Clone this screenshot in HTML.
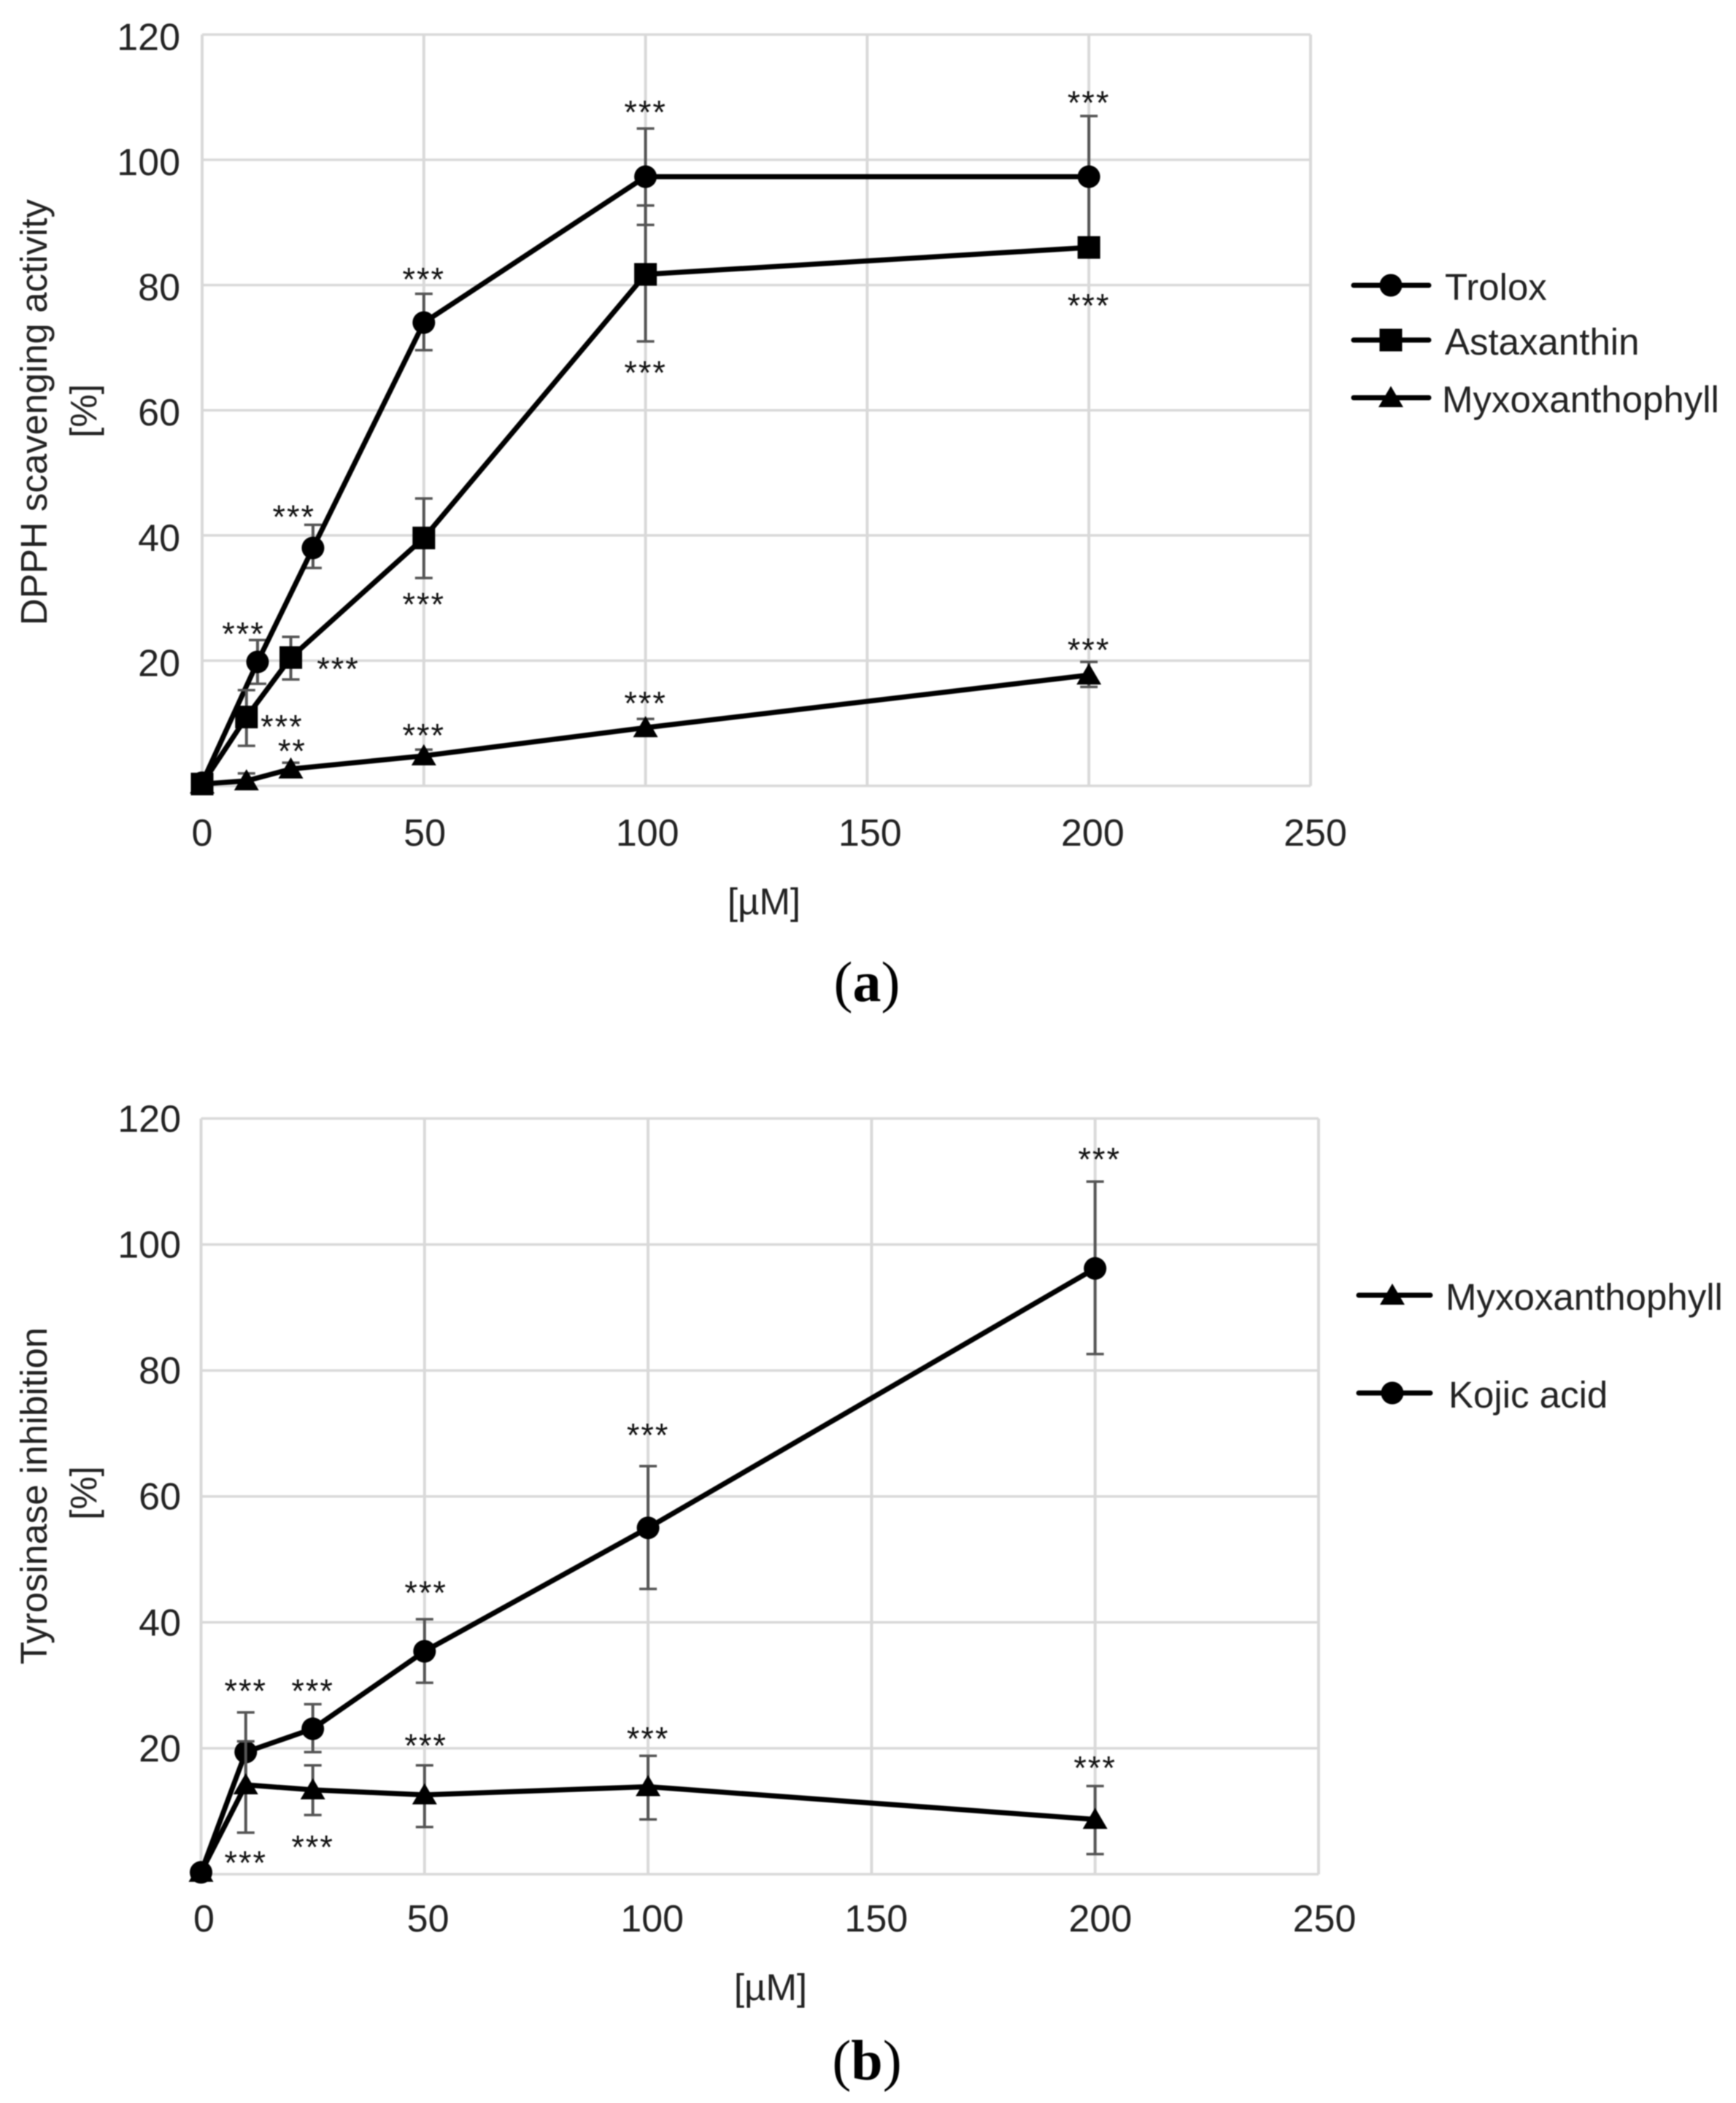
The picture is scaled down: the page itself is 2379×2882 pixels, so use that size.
<!DOCTYPE html>
<html lang="en">
<head>
<meta charset="utf-8">
<title>DPPH scavenging activity and tyrosinase inhibition</title>
<style>
html,body{margin:0;padding:0;background:#fff;}
#figure{display:block;width:2379px;height:2882px;filter:blur(0.9px);}
text{font-family:"Liberation Sans",Arial,sans-serif;fill:#222;}
</style>
</head>
<body>
<svg id="figure" xmlns="http://www.w3.org/2000/svg" width="2379" height="2882" viewBox="0 0 2379 2882"></svg>
<script>
// ---------- shared ticks ----------
const xTicks = [0, 50, 100, 150, 200, 250];
const yTicks = [20, 40, 60, 80, 100, 120];
const xTickLabels = ['0', '50', '100', '150', '200', '250'];
const yTickLabels = ['20', '40', '60', '80', '100', '120'];

// ---------- chart (a) DPPH ----------
const troloxDoses = [0, 12.5, 25, 50, 100, 200];
const troloxValues = [0.5, 19.8, 38, 74, 97.3, 97.3];
const troloxUpper = [0.5, 23.3, 41.7, 78.6, 105, 107];
const troloxLower = [0.5, 16.3, 34.8, 69.6, 89.6, 87];

const astaDoses = [0, 10, 20, 50, 100, 200];
const astaValues = [0.3, 11, 20.5, 39.6, 81.7, 86];
const astaUpper = [0.3, 15.3, 23.8, 45.9, 92.7, 87.3];
const astaLower = [0.3, 6.4, 17, 33.2, 71, 84.7];

const myxoADoses = [0, 10, 20, 50, 100, 200];
const myxoAValues = [0.3, 0.8, 2.7, 4.8, 9.3, 17.7];
const myxoAUpper = [0.3, 2, 3.7, 5.8, 10.7, 19.8];
const myxoALower = [0.3, 0, 1.7, 3.8, 8, 15.8];

const starsAText = ['***','***','***','***','***','***','***','***','***','***','**','***','***','***'];
const starsADose = [9.3, 20.7, 50, 100, 200, 18, 30.7, 50, 100, 200, 20.3, 50, 100, 200];
const starsALevel = [25.5, 44.2, 82.1, 108.8, 110.3, 10.7, 19.9, 30.2, 67.2, 77.9, 6.8, 9.3, 14.4, 22.9];

// ---------- chart (b) Tyrosinase ----------
const kojicDoses = [0, 10, 25, 50, 100, 200];
const kojicValues = [0.3, 19.4, 23.1, 35.4, 55, 96.2];
const kojicUpper = [0.3, 25.7, 27, 40.5, 64.8, 110];
const kojicLower = [0.3, 13.2, 19.4, 30.4, 45.3, 82.6];

const myxoBDoses = [0, 10, 25, 50, 100, 200];
const myxoBValues = [0.3, 14.2, 13.4, 12.6, 13.9, 8.7];
const myxoBUpper = [0.3, 21.1, 17.3, 17.3, 18.8, 14];
const myxoBLower = [0.3, 6.6, 9.4, 7.5, 8.7, 3.2];

const starsBText = ['***','***','***','***','***','***','***','***','***','***'];
const starsBDose = [10, 25, 50.3, 100, 201, 10, 25, 50.3, 100, 200];
const starsBLevel = [30.3, 30.3, 45.9, 70.9, 114.7, 3, 5.5, 21.6, 22.7, 18.1];

// ---------- axis functions ----------
function xA(v){ return 277 + 6.076 * v; }
function yA(v){ return 1077 - 8.58 * v; }
function xB(v){ return 275.5 + 6.126 * v; }
function yB(v){ return 2568.5 - 8.63 * v; }

const svg = document.getElementById('figure');
const NS = 'http://www.w3.org/2000/svg';

function make(tag, attrs, parent){
  const node = document.createElementNS(NS, tag);
  for (const k in attrs) node.setAttribute(k, attrs[k]);
  parent.appendChild(node);
  return node;
}

function addLabel(parent, name, str, x, y, size, anchor, rotate){
  const attrs = {x: x, y: y, 'font-size': size, 'text-anchor': anchor};
  if (rotate) attrs.transform = 'rotate(-90 ' + x + ' ' + y + ')';
  const t = make('text', attrs, parent);
  t.textContent = str;
  
  
  return t;
}

function drawMarker(parent, kind, cx, cy, name){
  let m;
  if (kind === 'circle') {
    m = make('circle', {cx: cx, cy: cy, r: 15.5, fill: '#000'}, parent);
  } else if (kind === 'square') {
    m = make('rect', {x: cx - 15.5, y: cy - 15.5, width: 31, height: 31, fill: '#000'}, parent);
  } else {
    m = make('polygon', {points: (cx - 17) + ',' + (cy + 13) + ' ' + (cx + 17) + ',' + (cy + 13) + ' ' + cx + ',' + (cy - 16), fill: '#000'}, parent);
  }
  
  
  return m;
}

function drawGrid(parent, prefix, xf, yf, xLabelShift, yLabelShift, yLabelRight, xLabelBase){
  const left = xf(0), right = xf(250), top = yf(120), bottom = yf(0);
  xTicks.forEach(function(v, i){
    const line = make('line', {x1: xf(v), x2: xf(v), y1: top, y2: bottom, stroke: '#d9d9d9', 'stroke-width': 4}, parent);
    
    
    addLabel(parent, prefix + '-x-tick-label', xTickLabels[i], xf(v) + xLabelShift(v), xLabelBase, 52, 'middle');
  });
  const baseline = make('line', {x1: left, x2: right, y1: bottom, y2: bottom, stroke: '#d9d9d9', 'stroke-width': 3.5}, parent);
  
  
  yTicks.forEach(function(v, i){
    const line = make('line', {x1: left, x2: right, y1: yf(v), y2: yf(v), stroke: '#d9d9d9', 'stroke-width': 3.5}, parent);
    
    
    addLabel(parent, prefix + '-y-tick-label', yTickLabels[i], yLabelRight, yf(v) + yLabelShift + 18, 52, 'end');
  });
}

function drawSeries(parent, name, kind, xf, yf, doses, values, upper, lower){
  const g = make('g', {}, parent);
  
  
  doses.forEach(function(d, i){
    if (upper[i] === lower[i]) return;
    const cx = xf(d);
    const stem = make('line', {x1: cx, x2: cx, y1: yf(upper[i]), y2: yf(lower[i]), stroke: '#555', 'stroke-width': 4}, g);
    
    
    [upper[i], lower[i]].forEach(function(b){
      const cap = make('line', {x1: cx - 12, x2: cx + 12, y1: yf(b), y2: yf(b), stroke: '#555', 'stroke-width': 3.5}, g);
      
      
    });
  });
  const pts = doses.map(function(d, i){ return xf(d) + ',' + yf(values[i]); }).join(' ');
  const poly = make('polyline', {points: pts, fill: 'none', stroke: '#000', 'stroke-width': 7, 'stroke-linejoin': 'round'}, g);
  
  
  doses.forEach(function(d, i){
    drawMarker(g, kind, xf(d), yf(values[i]), name + '-marker');
  });
}

function drawStars(parent, prefix, xf, yf, texts, doses, levels){
  const size = 45;
  texts.forEach(function(s, i){
    const t = make('text', {x: xf(doses[i]), y: yf(levels[i]) + size * 0.58, 'font-size': size, 'text-anchor': 'middle', 'letter-spacing': 2, style: 'fill:#111;'}, parent);
    t.textContent = s;
    
    
  });
}

function drawLegendEntry(parent, kind, label, lx1, lx2, mx, ly, tx){
  const g = make('g', {}, parent);
  
  
  const line = make('line', {x1: lx1, x2: lx2, y1: ly, y2: ly, stroke: '#000', 'stroke-width': 7, 'stroke-linecap': 'round'}, g);
  
  
  drawMarker(g, kind, mx, ly, 'legend-marker');
  addLabel(g, 'legend-label', label, tx, ly + 20, 51, 'start');
}

// ---------- chart (a) ----------
const chartA = make('g', {}, svg);


drawGrid(chartA, 'chart-a', xA, yA, function(v){ return 0.026 * v; }, 3, 247, 1159);
drawSeries(chartA, 'trolox', 'circle', xA, yA, troloxDoses, troloxValues, troloxUpper, troloxLower);
drawSeries(chartA, 'astaxanthin', 'square', xA, yA, astaDoses, astaValues, astaUpper, astaLower);
drawSeries(chartA, 'myxoxanthophyll-a', 'triangle', xA, yA, myxoADoses, myxoAValues, myxoAUpper, myxoALower);
drawStars(chartA, 'chart-a', xA, yA, starsAText, starsADose, starsALevel);
addLabel(chartA, 'chart-a-y-axis-title', 'DPPH scavenging activity', 64, 565, 51, 'middle', true);
addLabel(chartA, 'chart-a-y-axis-unit', '[%]', 132, 563, 51, 'middle', true);
addLabel(chartA, 'chart-a-x-axis-title', '[\u00B5M]', 1047, 1253, 51, 'middle');
const panelA = make('text', {x: 1188, y: 1372, 'font-size': 78, 'text-anchor': 'middle', style: 'font-family:"Liberation Serif",serif;fill:#000;'}, chartA);
panelA.innerHTML = '(<tspan font-weight="bold">a</tspan>)';


drawLegendEntry(chartA, 'circle', 'Trolox', 1855, 1958, 1906, 391, 1980);
drawLegendEntry(chartA, 'square', 'Astaxanthin', 1855, 1958, 1906, 466, 1980);
drawLegendEntry(chartA, 'triangle', 'Myxoxanthophyll', 1855, 1958, 1906, 545, 1976);

// ---------- chart (b) ----------
const chartB = make('g', {}, svg);


drawGrid(chartB, 'chart-b', xB, yB, function(v){ return 4 + 0.016 * v; }, 0, 248, 2647);
drawSeries(chartB, 'kojic-acid', 'circle', xB, yB, kojicDoses, kojicValues, kojicUpper, kojicLower);
drawSeries(chartB, 'myxoxanthophyll-b', 'triangle', xB, yB, myxoBDoses, myxoBValues, myxoBUpper, myxoBLower);
drawStars(chartB, 'chart-b', xB, yB, starsBText, starsBDose, starsBLevel);
addLabel(chartB, 'chart-b-y-axis-title', 'Tyrosinase inhibition', 64, 2050, 51, 'middle', true);
addLabel(chartB, 'chart-b-y-axis-unit', '[%]', 132, 2046, 51, 'middle', true);
addLabel(chartB, 'chart-b-x-axis-title', '[\u00B5M]', 1056, 2741, 51, 'middle');
const panelB = make('text', {x: 1188, y: 2850, 'font-size': 78, 'text-anchor': 'middle', style: 'font-family:"Liberation Serif",serif;fill:#000;'}, chartB);
panelB.innerHTML = '(<tspan font-weight="bold">b</tspan>)';


drawLegendEntry(chartB, 'triangle', 'Myxoxanthophyll', 1862, 1960, 1908, 1775, 1981);
drawLegendEntry(chartB, 'circle', 'Kojic acid', 1862, 1960, 1908, 1909, 1985);
</script>
</body>
</html>
